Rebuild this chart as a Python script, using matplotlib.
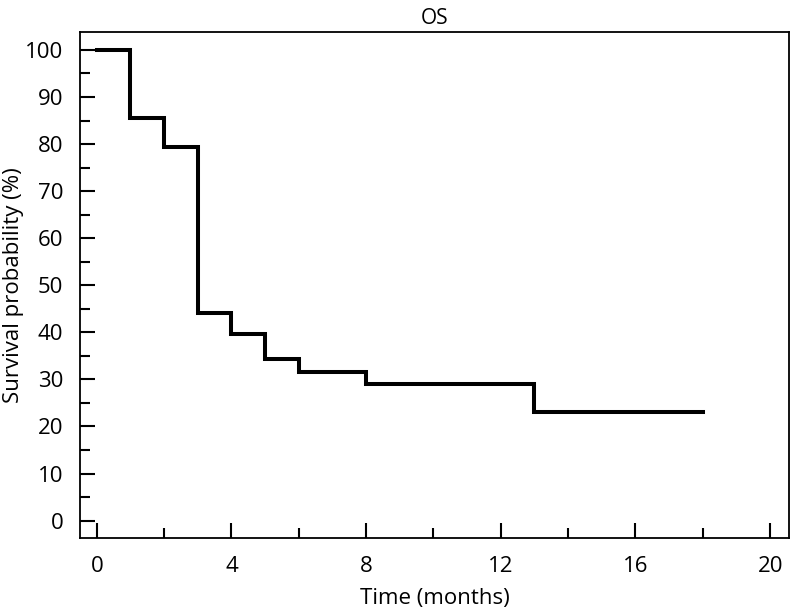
import numpy as np
import matplotlib
matplotlib.use("Agg")
import matplotlib.pyplot as plt
from matplotlib.ticker import MultipleLocator

# Kaplan-Meier step points
times = [0, 1, 2, 3, 4, 5, 6, 8, 13, 18]
surv = [100, 85.5, 79.4, 44.2, 39.6, 34.4, 31.6, 29.0, 23.0, 23.0]

x_ticks = [0, 4, 8, 12, 16, 20]
y_ticks = [0, 10, 20, 30, 40, 50, 60, 70, 80, 90, 100]

plt.rcParams['font.family'] = ['Open Sans', 'DejaVu Sans']
plt.rcParams['font.size'] = 16

fig = plt.figure(figsize=(7.91, 6.10), dpi=100)
ax = fig.add_axes([0.1011, 0.118, 0.8964, 0.8295])

ax.step(times, surv, where='post', color='black', lw=2.9, solid_joinstyle='miter')

ax.set_xlim(-0.5, 20.56)
ax.set_ylim(-3.7, 103.8)
ax.set_xticks(x_ticks)
ax.set_yticks(y_ticks)
ax.xaxis.set_minor_locator(MultipleLocator(2))
ax.yaxis.set_minor_locator(MultipleLocator(5))
ax.tick_params(which='major', direction='in', length=11, width=1.5, labelsize=16)
ax.tick_params(which='minor', direction='in', length=7, width=1.5)
ax.tick_params(axis='x', pad=13)
ax.tick_params(axis='y', pad=12)
for s in ax.spines.values():
    s.set_linewidth(1.3)

ax.set_title('OS', fontsize=15, pad=6)
ax.set_xlabel('Time (months)', fontsize=16, labelpad=8)
ax.set_ylabel('Survival probability (%)', fontsize=16, labelpad=1)

fig.savefig('out.png', dpi=100)
